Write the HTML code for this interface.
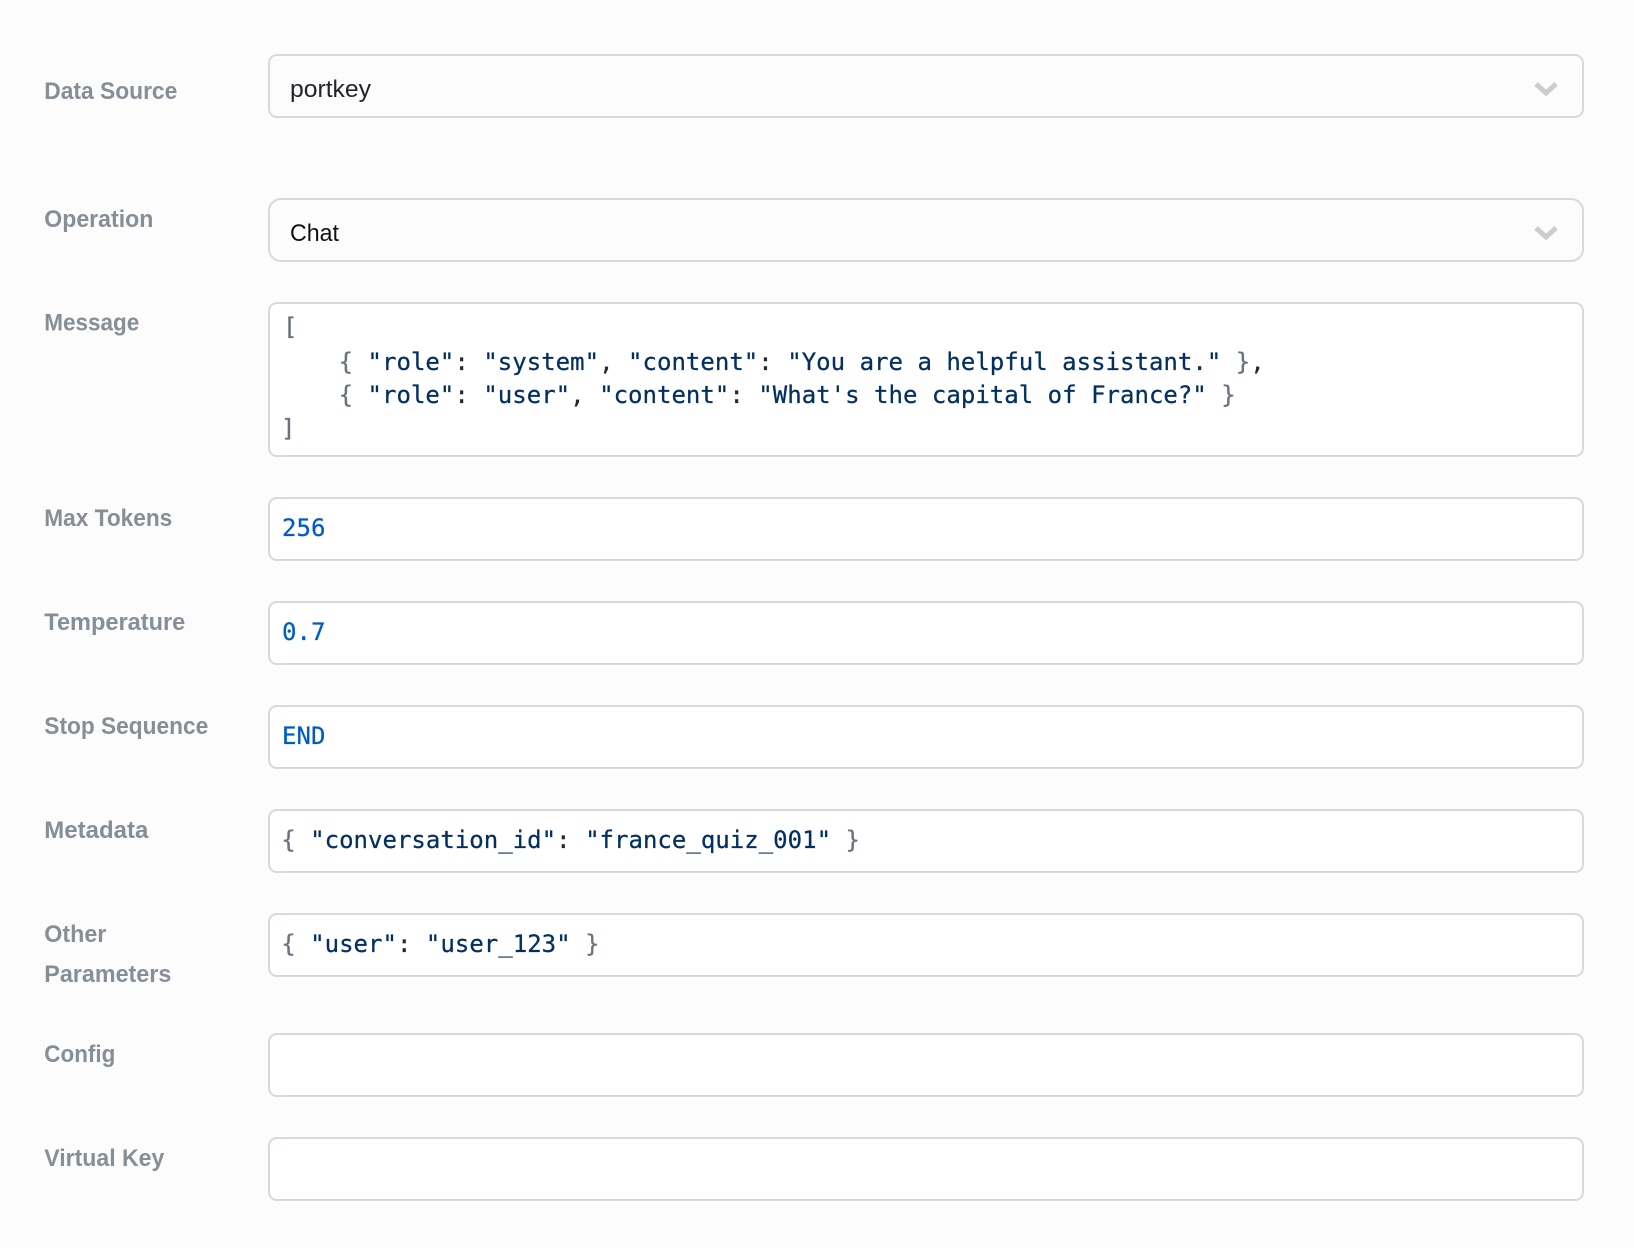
<!DOCTYPE html>
<html><head><meta charset="utf-8"><style>
html,body{margin:0;padding:0;background:#fcfcfc;width:1634px;height:1248px;overflow:hidden}
svg{display:block}
.b{stroke:#d6dade;stroke-width:2}
.l{font-family:"Liberation Sans",sans-serif;font-size:24px;font-weight:700;fill:#868e96}
.s{font-family:"Liberation Sans",sans-serif;font-size:24px}
.m{font-family:"DejaVu Sans Mono",monospace;font-size:24px;fill:#032f62;white-space:pre;letter-spacing:.02px;stroke:#032f62;stroke-width:.25}
.p{fill:#6a737d;stroke:#6a737d}.c{fill:#24292e;stroke:#24292e}.n{fill:#005cc5;stroke:#005cc5}
</style></head><body>
<svg xmlns="http://www.w3.org/2000/svg" width="1634" height="1248" viewBox="0 0 1634 1248">
<rect width="1634" height="1248" fill="#fcfcfc"/>
<rect class="b" x="269" y="55" width="1314" height="62" rx="8" fill="#fcfcfc"/>
<rect class="b" x="269" y="199" width="1314" height="62" rx="12" fill="#fcfcfc"/>
<rect class="b" x="269" y="303" width="1314" height="153" rx="8" fill="#fff"/>
<rect class="b" x="269" y="498" width="1314" height="62" rx="8" fill="#fff"/>
<rect class="b" x="269" y="602" width="1314" height="62" rx="8" fill="#fff"/>
<rect class="b" x="269" y="706" width="1314" height="62" rx="8" fill="#fff"/>
<rect class="b" x="269" y="810" width="1314" height="62" rx="8" fill="#fff"/>
<rect class="b" x="269" y="914" width="1314" height="62" rx="8" fill="#fff"/>
<rect class="b" x="269" y="1034" width="1314" height="62" rx="8" fill="#fff"/>
<rect class="b" x="269" y="1138" width="1314" height="62" rx="8" fill="#fff"/>
<path d="M1536 84L1546 93L1556 84" fill="none" stroke="#ccc" stroke-width="5"/>
<path d="M1536 228L1546 237L1556 228" fill="none" stroke="#ccc" stroke-width="5"/>
<text class="l" x="44.3" y="99" textLength="133" lengthAdjust="spacingAndGlyphs">Data Source</text>
<text class="l" x="44.3" y="227" textLength="109" lengthAdjust="spacingAndGlyphs">Operation</text>
<text class="l" x="44.3" y="330.5" textLength="95" lengthAdjust="spacingAndGlyphs">Message</text>
<text class="l" x="44.3" y="526" textLength="128" lengthAdjust="spacingAndGlyphs">Max Tokens</text>
<text class="l" x="44.3" y="630" textLength="141" lengthAdjust="spacingAndGlyphs">Temperature</text>
<text class="l" x="44.3" y="734" textLength="164" lengthAdjust="spacingAndGlyphs">Stop Sequence</text>
<text class="l" x="44.3" y="838" textLength="104" lengthAdjust="spacingAndGlyphs">Metadata</text>
<text class="l" x="44.3" y="942" textLength="62" lengthAdjust="spacingAndGlyphs">Other</text>
<text class="l" x="44.3" y="982" textLength="127" lengthAdjust="spacingAndGlyphs">Parameters</text>
<text class="l" x="44.3" y="1062" textLength="71" lengthAdjust="spacingAndGlyphs">Config</text>
<text class="l" x="44.3" y="1166" textLength="120" lengthAdjust="spacingAndGlyphs">Virtual Key</text>
<text class="s" x="290" y="97" fill="#212529" textLength="81" lengthAdjust="spacingAndGlyphs">portkey</text>
<text class="s" x="290" y="241" fill="#111" textLength="49" lengthAdjust="spacingAndGlyphs">Chat</text>
<text class="m" xml:space="preserve" x="283" y="335"><tspan class="p">[</tspan></text>
<text class="m" xml:space="preserve" x="280.7" y="370">    <tspan class="p">{</tspan> "role"<tspan class="c">:</tspan> "system"<tspan class="c">,</tspan> "content"<tspan class="c">:</tspan> "You are a helpful assistant." <tspan class="p">}</tspan><tspan class="c">,</tspan></text>
<text class="m" xml:space="preserve" x="280.7" y="403">    <tspan class="p">{</tspan> "role"<tspan class="c">:</tspan> "user"<tspan class="c">,</tspan> "content"<tspan class="c">:</tspan> "What's the capital of France?" <tspan class="p">}</tspan></text>
<text class="m" xml:space="preserve" x="281" y="436.5"><tspan class="p">]</tspan></text>
<text class="m n" x="282" y="536">256</text>
<text class="m n" x="282" y="640">0.7</text>
<text class="m n" x="282" y="744">END</text>
<text class="m" xml:space="preserve" x="281.2" y="848"><tspan class="p">{</tspan> "conversation_id"<tspan class="c">:</tspan> "france_quiz_001" <tspan class="p">}</tspan></text>
<text class="m" xml:space="preserve" x="281.2" y="952"><tspan class="p">{</tspan> "user"<tspan class="c">:</tspan> "user_123" <tspan class="p">}</tspan></text>
</svg>
</body></html>
